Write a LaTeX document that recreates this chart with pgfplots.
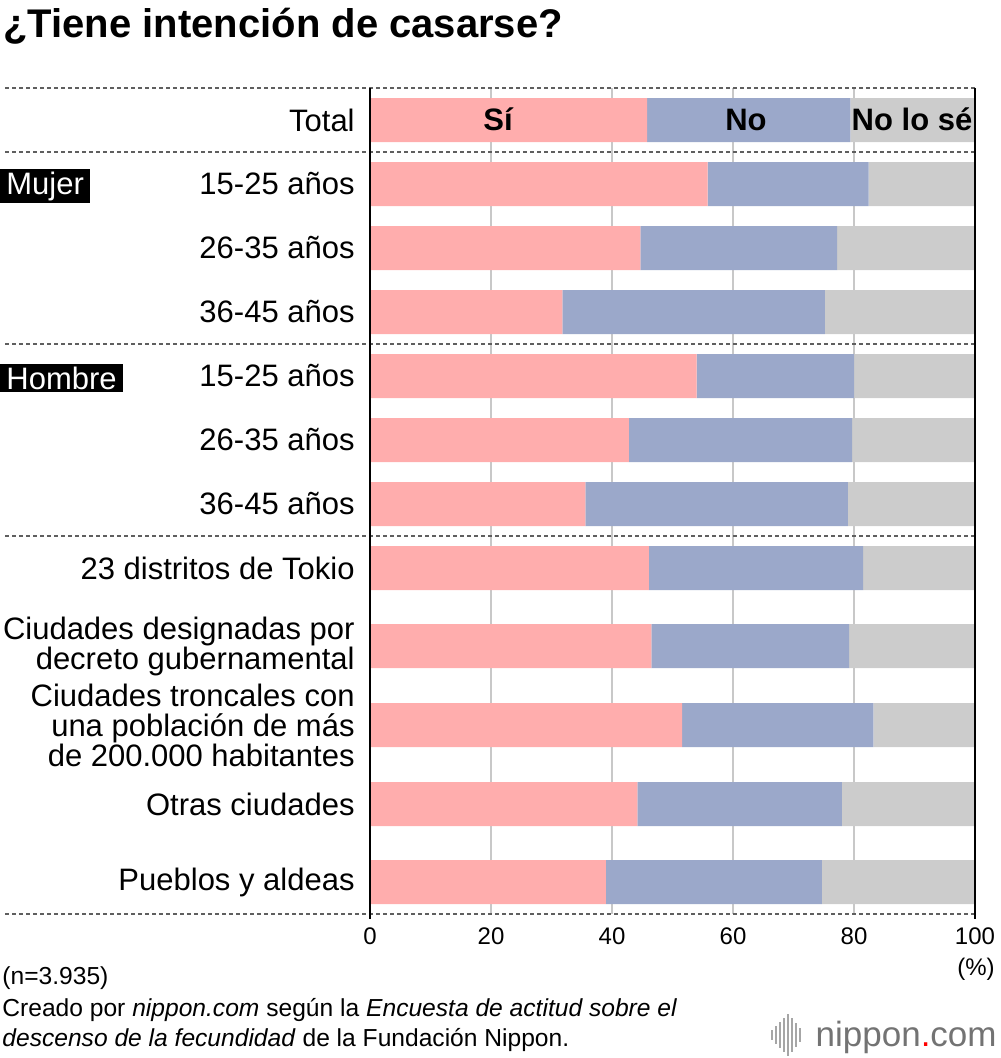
\documentclass[border=0pt]{standalone}
\usepackage{fontspec}
\setmainfont{Liberation Sans}
\usepackage{pgfplots}
\usepackage{pgfplotstable}
\pgfplotsset{compat=1.18}

\definecolor{si}{RGB}{255,173,173}
\definecolor{no}{RGB}{155,168,202}
\definecolor{nose}{RGB}{204,204,204}
\definecolor{sep}{RGB}{95,95,95}
\definecolor{gridc}{RGB}{200,200,200}

% pos = vertical position of the bar (pixels from the top)
\pgfplotstableread{
pos si   no   nose
120 45.8 33.6 20.6
184 55.8 26.6 17.6
248 44.7 32.5 22.8
312 31.8 43.4 24.8
376 54.0 26.0 20.0
440 42.8 36.9 20.3
504 35.6 43.4 21.0
568 46.1 35.4 18.5
646 46.5 32.7 20.8
725 51.6 31.6 16.8
804 44.2 33.8 22.0
882 39.0 35.7 25.3
}\datos

\newcommand{\lab}{\fontsize{15.5}{15}\selectfont}
\newcommand{\nota}{\fontsize{12.3}{14}\selectfont}

\begin{document}
\begin{tikzpicture}
\begin{axis}[
  at={(185pt,-44pt)}, anchor=north west,
  width=302.5pt, height=413pt, scale only axis,
  xbar stacked, bar width=22pt,
  xmin=0, xmax=100, ymin=88, ymax=914, y dir=reverse,
  axis line style={draw=none}, major tick length=0pt,
  xtick={0,20,40,60,80,100},
  xmajorgrids, grid style={color=gridc, line width=1pt},
  ytick={120,184,248,312,376,440,504,568,646,725,804,882},
  yticklabels={Total,15-25 años,26-35 años,36-45 años,15-25 años,26-35 años,36-45 años,
    23 distritos de Tokio,
    {Ciudades designadas por\\decreto gubernamental},
    {Ciudades troncales con\\una población de más\\de 200.000 habitantes},
    Otras ciudades,Pueblos y aldeas},
  yticklabel style={align=right, font=\lab, inner sep=0pt, xshift=-7.5pt},
  xticklabel style={font=\fontsize{12}{12}\selectfont, inner sep=0pt, yshift=-6.5pt},
  /pgf/number format/assume math mode=true,
  clip=false,
]
\addplot[fill=si, draw=none] table[x=si, y=pos]{\datos};
\addplot[fill=no, draw=none] table[x=no, y=pos]{\datos};
\addplot[fill=nose, draw=none] table[x=nose, y=pos]{\datos};
\end{axis}

\begin{scope}[x=0.5pt,y=-0.5pt]
\path[use as bounding box] (0,0) rectangle (1000,1058);

\node[anchor=base west, inner sep=0pt, font=\bfseries\fontsize{20}{20}\selectfont] at (3,38) {¿Tiene intención de casarse?};

\foreach \yy in {88,152,344,536,914}
  \draw[sep, line width=1pt, dash pattern=on 2pt off 1.5pt] (5,\yy) -- (975,\yy);
\draw[black, line width=0.8pt] (370,88) -- (370,919);
\draw[black, line width=0.8pt] (975,88) -- (975,919);

\node[anchor=base, inner sep=0pt, font=\bfseries\lab] at (498,131) {Sí};
\node[anchor=base, inner sep=0pt, font=\bfseries\lab] at (746,131) {No};
\node[anchor=base, inner sep=0pt, font=\bfseries\lab] at (912,131) {No lo sé};

\node[fill=black, text=white, anchor=west, inner xsep=3pt, inner ysep=1.5pt, font=\lab] at (0,186) {Mujer};
\node[fill=black, text=white, anchor=west, inner xsep=3pt, inner ysep=1.5pt, font=\lab] at (0,378) {Hombre};

\node[anchor=base east, inner sep=0pt, font=\fontsize{12}{12}\selectfont] at (995,975) {(\%)};

\node[anchor=base west, inner sep=0pt, font=\nota] at (2,984) {(n=3.935)};
\node[anchor=base west, inner sep=0pt, font=\nota] at (2,1016) {Creado por \textit{nippon.com} según la \textit{Encuesta de actitud sobre el}};
\node[anchor=base west, inner sep=0pt, font=\nota] at (2,1046) {\textit{descenso de la fecundidad} de la Fundación Nippon.};

\node[anchor=base east, inner sep=0pt, text=black!55, font=\fontsize{17.5}{17.5}\selectfont] at (997,1046) {nippon\textcolor{red}{.}com};
\foreach \xx/\h in {772/5,776/9,780/13,784/17,788/21,792/17,796/12,800/7}
  \draw[black!35, line width=1pt] (\xx,{1035-\h}) -- (\xx,{1035+\h});
\end{scope}
\end{tikzpicture}
\end{document}
